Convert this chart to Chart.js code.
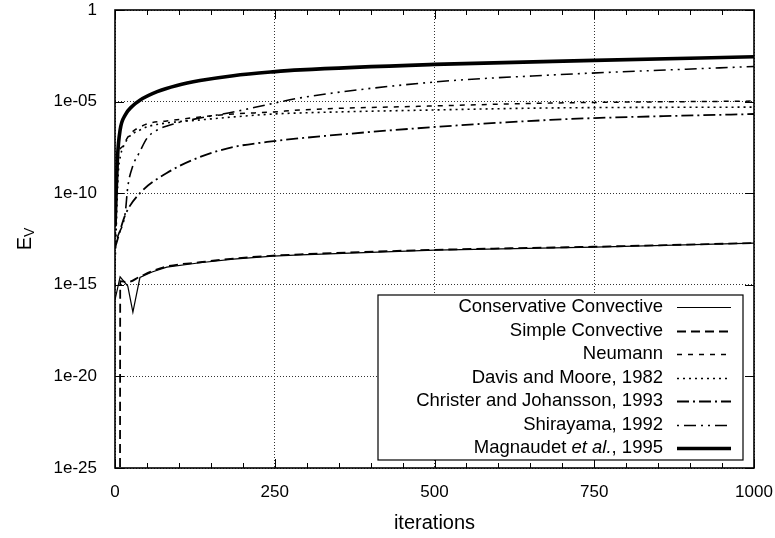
<!DOCTYPE html>
<html>
<head>
<meta charset="utf-8">
<script src="https://cdn.jsdelivr.net/npm/chart.js@4.4.1/dist/chart.umd.min.js"></script>
<style>
  html, body { margin: 0; padding: 0; background: #fff; }
  #wrap { width: 775px; height: 538px; }
</style>
</head>
<body>
<div id="wrap"><canvas id="chartEv"></canvas></div>
<script>
// tick positions and labels
const xTickValues = [0, 250, 500, 750, 1000];
const yTickValues = [1e-25, 1e-20, 1e-15, 1e-10, 1e-5, 1];
const yTickLabels = ['1e-25', '1e-20', '1e-15', '1e-10', '1e-05', '1'];

// one pair of arrays per boundary condition: iteration, E_V
const consIter = [0, 8, 20, 28, 39, 58, 81, 133, 185, 247, 290, 500, 750, 1000];
const consEv = [1.5e-16, 2.7e-15, 8.5e-16, 3.2e-17, 2.5e-15, 5.0e-15, 9.3e-15, 1.6e-14, 2.5e-14, 3.7e-14, 4.3e-14, 7.9e-14, 1.15e-13, 1.9e-13];

const simpleIter = [7.8, 8.2, 20, 39, 58, 81, 133, 185, 247, 290, 500, 750, 1000];
const simpleEv = [1e-28, 1.6e-15, 1.4e-15, 2.8e-15, 5.5e-15, 1.0e-14, 1.7e-14, 2.7e-14, 3.9e-14, 4.6e-14, 8.1e-14, 1.2e-13, 1.9e-13];

const neumannIter = [0, 5, 11, 19, 27, 39, 55, 81, 133, 185, 247, 290, 500, 681, 1000];
const neumannEv = [1e-13, 9.5e-9, 3.3e-8, 1.0e-7, 2.2e-7, 4.1e-7, 6.8e-7, 8.7e-7, 1.45e-6, 2.1e-6, 2.7e-6, 3.5e-6, 5.8e-6, 8.3e-6, 1.07e-5];

const davisIter = [0, 5, 9, 16, 23, 39, 55, 81, 133, 185, 247, 290, 500, 681, 1000];
const davisEv = [1e-14, 1e-9, 1.26e-8, 5.5e-8, 1.3e-7, 2.8e-7, 4.7e-7, 6.8e-7, 1.0e-6, 1.45e-6, 2.1e-6, 2.4e-6, 3.5e-6, 4.5e-6, 5.0e-6];

const christerIter = [0, 5, 16, 39, 81, 133, 185, 238, 290, 500, 681, 750, 1000];
const christerEv = [1e-13, 4e-13, 6.5e-12, 1.0e-10, 1.26e-9, 9.5e-9, 3.3e-8, 6.3e-8, 1.0e-7, 4.1e-7, 1.0e-6, 1.26e-6, 2.1e-6];

const shiraIter = [0, 5, 16, 20, 28, 38, 50, 66, 97, 133, 185, 247, 290, 500, 681, 1000];
const shiraEv = [1.6e-13, 5e-13, 8.3e-12, 2.2e-10, 3.2e-9, 1.6e-8, 1e-7, 2.8e-7, 6.8e-7, 1.26e-6, 2.7e-6, 7.9e-6, 1.6e-5, 1.17e-4, 2.8e-4, 8.3e-4];

const magIter = [0, 4, 8, 16, 27, 39, 66, 97, 133, 185, 247, 290, 500, 750, 1000];
const magEv = [1.6e-12, 1e-8, 2.8e-7, 1.86e-6, 5.6e-6, 1.2e-5, 3.5e-5, 7.6e-5, 1.4e-4, 2.6e-4, 4.2e-4, 5.4e-4, 1.07e-3, 1.78e-3, 2.8e-3];

const pts = (xs, ys) => xs.map((x, i) => ({ x: x, y: ys[i] }));

const FONT = "'Liberation Sans', Arial, Helvetica, sans-serif";

const series = [
    { label: 'Conservative Convective', data: pts(consIter, consEv), width: 1.2, dash: [], tension: 0 },
    { label: 'Simple Convective', data: pts(simpleIter, simpleEv), width: 1.8, dash: [9, 5] },
    { label: 'Neumann', data: pts(neumannIter, neumannEv), width: 1.5, dash: [5, 6] },
    { label: 'Davis and Moore, 1982', data: pts(davisIter, davisEv), width: 1.6, dash: [2, 4] },
    { label: 'Christer and Johansson, 1993', data: pts(christerIter, christerEv), width: 1.8, dash: [12, 4, 2, 4] },
    { label: 'Shirayama, 1992', data: pts(shiraIter, shiraEv), width: 1.6, dash: [2, 5, 12, 5, 2, 5] },
    { label: 'Magnaudet et al., 1995', data: pts(magIter, magEv), width: 3.6, dash: [] }
];

// frame, inward ticks, boxed legend and axis titles
const framePlugin = {
    id: 'frame',
    afterDatasetsDraw(chart) {
        const { ctx, chartArea: a, scales } = chart;
        const xs = scales.x, ys = scales.y;
        ctx.save();
        ctx.strokeStyle = '#000';
        ctx.lineWidth = 1;
        ctx.setLineDash([]);
        // minor x ticks every 50, major at labelled values
        for (let v = 0; v <= 1000; v += 50) {
            const px = Math.round(xs.getPixelForValue(v)) + 0.5;
            const len = xTickValues.includes(v) ? 9 : 5;
            ctx.beginPath();
            ctx.moveTo(px, a.bottom); ctx.lineTo(px, a.bottom - len);
            ctx.moveTo(px, a.top); ctx.lineTo(px, a.top + len);
            ctx.stroke();
        }
        yTickValues.forEach(v => {
            const py = Math.round(ys.getPixelForValue(v)) + 0.5;
            ctx.beginPath();
            ctx.moveTo(a.left, py); ctx.lineTo(a.left + 9, py);
            ctx.moveTo(a.right, py); ctx.lineTo(a.right - 9, py);
            ctx.stroke();
        });
        ctx.lineWidth = 1.6;
        ctx.strokeRect(a.left, a.top, a.right - a.left, a.bottom - a.top);

        // legend box
        const bx = a.left + 263, by = a.top + 285, bw = 365, bh = 165;
        ctx.fillStyle = '#fff';
        ctx.fillRect(bx, by, bw, bh);
        ctx.lineWidth = 1.2;
        ctx.strokeRect(bx, by, bw, bh);
        const textRight = bx + 285, lineX0 = bx + 299, lineX1 = bx + 353;
        const normal = '18.5px ' + FONT, italic = 'italic 18.5px ' + FONT;
        ctx.fillStyle = '#000';
        ctx.textBaseline = 'middle';
        chart.data.datasets.forEach((ds, i) => {
            const cy = by + 12 + i * 23.5;
            if (ds.label.indexOf('et al.') >= 0) {
                const parts = [['Magnaudet ', normal], ['et al.', italic], [', 1995', normal]];
                let total = 0;
                parts.forEach(p => { ctx.font = p[1]; total += ctx.measureText(p[0]).width; });
                let x = textRight - total;
                ctx.textAlign = 'left';
                parts.forEach(p => { ctx.font = p[1]; ctx.fillText(p[0], x, cy); x += ctx.measureText(p[0]).width; });
            } else {
                ctx.font = normal;
                ctx.textAlign = 'right';
                ctx.fillText(ds.label, textRight, cy);
            }
            ctx.beginPath();
            ctx.lineWidth = ds.borderWidth;
            ctx.setLineDash(ds.borderDash);
            ctx.moveTo(lineX0, Math.round(cy) + 0.5);
            ctx.lineTo(lineX1, Math.round(cy) + 0.5);
            ctx.stroke();
        });
        ctx.setLineDash([]);

        // axis titles
        ctx.font = '20px ' + FONT;
        ctx.textAlign = 'center';
        ctx.textBaseline = 'middle';
        ctx.fillText('iterations', (a.left + a.right) / 2, 523);

        ctx.translate(25, (a.top + a.bottom) / 2);
        ctx.rotate(-Math.PI / 2);
        ctx.font = '20px ' + FONT;
        const wE = ctx.measureText('E').width;
        ctx.font = '14px ' + FONT;
        const wV = ctx.measureText('V').width;
        ctx.textAlign = 'left';
        ctx.font = '20px ' + FONT;
        ctx.fillText('E', -(wE + wV) / 2, 0);
        ctx.font = '14px ' + FONT;
        ctx.fillText('V', -(wE + wV) / 2 + wE, 5);
        ctx.restore();
    }
};

new Chart(document.getElementById('chartEv').getContext('2d'), {
    type: 'line',
    data: {
        datasets: series.map(s => ({
            label: s.label,
            data: s.data,
            borderColor: '#000',
            borderWidth: s.width,
            borderDash: s.dash,
            pointRadius: 0,
            fill: false,
            tension: s.tension === 0 ? 0 : 0.4,
            cubicInterpolationMode: s.tension === 0 ? 'default' : 'monotone'
        }))
    },
    options: {
        responsive: true,
        maintainAspectRatio: false,
        animation: false,
        layout: { padding: { left: 0, top: 10, right: 21, bottom: 0 } },
        plugins: {
            legend: { display: false },
            tooltip: { enabled: false }
        },
        scales: {
            x: {
                type: 'linear',
                min: 0,
                max: 1000,
                afterFit(scale) {
                    scale.height = 70;
                    scale.paddingLeft = 0;
                    scale.paddingRight = 0;
                },
                afterBuildTicks(scale) { scale.ticks = xTickValues.map(v => ({ value: v })); },
                ticks: {
                    color: '#000',
                    padding: 14,
                    font: { family: FONT, size: 17 },
                    maxRotation: 0,
                    callback: v => String(v)
                },
                grid: { color: '#333', lineWidth: 1, drawTicks: false },
                border: { display: false, dash: [1, 2] }
            },
            y: {
                type: 'logarithmic',
                min: 1e-25,
                max: 1,
                afterFit(scale) {
                    scale.width = 115;
                    scale.paddingTop = 0;
                    scale.paddingBottom = 0;
                },
                afterBuildTicks(scale) { scale.ticks = yTickValues.map(v => ({ value: v })); },
                ticks: {
                    color: '#000',
                    padding: 18,
                    font: { family: FONT, size: 17 },
                    callback: (v, i) => yTickLabels[i]
                },
                grid: { color: '#333', lineWidth: 1, drawTicks: false },
                border: { display: false, dash: [1, 2] }
            }
        }
    },
    plugins: [framePlugin]
});
</script>
</body>
</html>
